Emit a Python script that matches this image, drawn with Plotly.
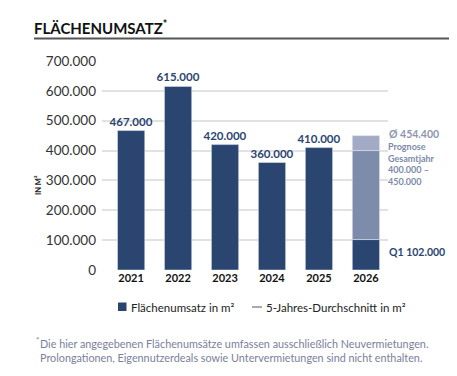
import plotly.graph_objects as go

years = ["2021", "2022", "2023", "2024", "2025", "2026"]
umsatz = [467000, 615000, 420000, 360000, 410000]
value_labels = ["467.000", "615.000", "420.000", "360.000", "410.000"]
q1_2026 = 102000
prognose_low = 400000
prognose_high = 450000
avg_5y = 454400
y_ticks = [0, 100000, 200000, 300000, 400000, 500000, 600000, 700000]

NAVY = "#2b4571"
MID = "#7e8cab"
LIGHT = "#a2aac6"
FONT = "Lato"

OFF = 8  # browser body margin
W, H = 457 - OFF, 376 - OFF
L, R, T, B = 102, 388, 61, 270  # plot area in page pixels


def px(x):
    return (x - L) / (R - L)


def py(y):
    return (B - y) / (B - T)


fig = go.Figure()
fig.add_bar(
    x=years[:5], y=umsatz, marker_color=NAVY,
    text=value_labels, textposition="outside", cliponaxis=False,
    constraintext="none",
    textfont=dict(family=FONT, size=11.5, color=NAVY, weight="bold"),
    hoverinfo="skip", showlegend=False,
)
fig.add_bar(
    x=[years[5]], y=[q1_2026], marker_color=NAVY,
    hoverinfo="skip", showlegend=False,
)
fig.add_bar(
    x=[years[5]], y=[prognose_low - q1_2026], base=[q1_2026],
    marker_color=MID, showlegend=False, hoverinfo="skip",
)
fig.add_bar(
    x=[years[5]], y=[prognose_high - prognose_low], base=[prognose_low],
    marker_color=LIGHT, showlegend=False, hoverinfo="skip",
)
fig.add_scatter(
    x=[-0.62, 5.47], y=[avg_5y, avg_5y], mode="lines",
    line=dict(color="#9a9a9a", width=2), showlegend=False,
    hoverinfo="skip",
)

fig.update_layout(
    width=W, height=H,
    margin=dict(l=L - OFF, r=W - (R - OFF), t=T - OFF, b=H - (B - OFF)),
    paper_bgcolor="white", plot_bgcolor="white",
    barmode="overlay", bargap=0.42,
    separators=",.",
    font=dict(family=FONT, color="#222"),
    showlegend=False,
    xaxis=dict(
        type="category", range=[-0.62, 5.47], showgrid=False, showline=False,
        ticks="", tickfont=dict(family=FONT, size=11, color="#111", weight="bold"),
        fixedrange=True, automargin=False,
    ),
    yaxis=dict(
        range=[0, 700000], tickvals=y_ticks, tickformat=",d",
        showgrid=True, gridcolor="#e2e2e2", gridwidth=1.5, zeroline=False,
        tickfont=dict(family=FONT, size=13.5, color="#333"),
        ticklabelstandoff=5, fixedrange=True, automargin=False,
    ),
)

annotations = [
    dict(x=px(32), y=py(27), xanchor="left", yanchor="middle",
         text="<b>FLÄCHENUMSATZ</b><sup><b>*</b></sup>",
         font=dict(family=FONT, size=15, color="#111")),
    dict(x=px(38), y=py(185), textangle=-90, xanchor="center", yanchor="middle",
         text="<b>IN M²</b>", font=dict(family=FONT, size=7.5, color="#222")),
    dict(x=px(387), y=avg_5y, yref="y", xanchor="left", yanchor="middle",
         text="<b>Ø 454.400</b>", font=dict(family=FONT, size=10.5, color="#8e96b0")),
    dict(x=px(387), y=py(139.5), xanchor="left", yanchor="top", align="left",
         borderpad=0,
         text="<b>Prognose<br>Gesamtjahr<br>400.000 –<br>450.000</b>",
         font=dict(family=FONT, size=9, color="#7d8aab")),
    dict(x=px(387), y=py(252), xanchor="left", yanchor="middle",
         text="<b>Q1 102.000</b>", font=dict(family=FONT, size=10.5, color=NAVY)),
    # legend texts
    dict(x=px(129), y=py(307), xanchor="left", yanchor="middle",
         text="Flächenumsatz in m²", font=dict(family=FONT, size=11.5, color="#222")),
    dict(x=px(264), y=py(307), xanchor="left", yanchor="middle",
         text="5-Jahres-Durchschnitt in m²", font=dict(family=FONT, size=11.5, color="#222")),
    # footnote
    dict(x=px(34), y=py(340), xanchor="left", yanchor="middle",
         text="*", font=dict(family=FONT, size=8, color="#7a809c")),
    dict(x=px(38), y=py(350), xanchor="left", yanchor="middle", align="left",
         text="Die hier angegebenen Flächenumsätze umfassen ausschließlich Neuvermietungen.<br>"
              "Prolongationen, Eigennutzerdeals sowie Untervermietungen sind nicht enthalten.",
         font=dict(family=FONT, size=10.8, color="#7a809c")),
]
for a in annotations:
    a.setdefault("xref", "paper")
    a.setdefault("yref", "paper")
    a["showarrow"] = False
fig.update_layout(annotations=annotations)

# title underline
fig.add_shape(type="line", xref="paper", yref="paper",
              x0=px(34), x1=px(457), y0=py(38.5), y1=py(38.5),
              line=dict(color="#555", width=2))
# legend symbols
fig.add_shape(type="rect", xref="paper", yref="paper",
              x0=px(118), x1=px(126.5), y0=py(311), y1=py(302.5),
              line=dict(width=0), fillcolor=NAVY)
fig.add_shape(type="line", xref="paper", yref="paper",
              x0=px(252), x1=px(262), y0=py(307), y1=py(307),
              line=dict(color="#aaaaaa", width=2))

fig.write_html("out.html")
